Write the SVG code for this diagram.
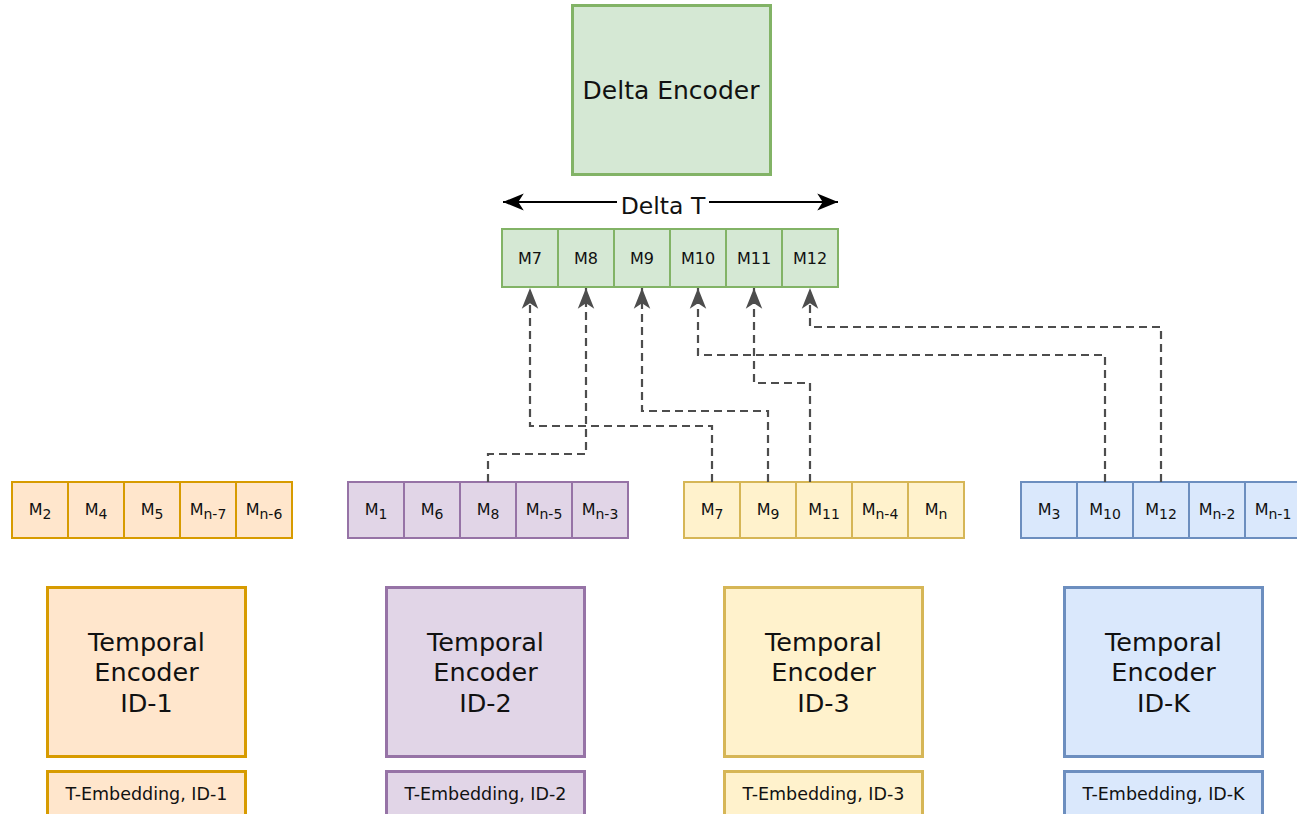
<svg xmlns="http://www.w3.org/2000/svg" width="1297" height="814" viewBox="0 0 1297 814">
  <defs>
    <marker id="arrGray" markerUnits="userSpaceOnUse" markerWidth="22" markerHeight="22" viewBox="0 0 16 16" refX="15" refY="8" orient="auto">
      <path d="M0,2 L15,8 L0,14 L4,8 z" fill="#4d4d4d"/>
    </marker>
    <marker id="arrBlack" markerUnits="userSpaceOnUse" markerWidth="22" markerHeight="22" viewBox="0 0 18 18" refX="17" refY="9" orient="auto-start-reverse">
      <path d="M0,2 L17,9 L0,16 L4.5,9 z" fill="#000"/>
    </marker>
    <style>
      text { font-family: "DejaVu Sans", Verdana, sans-serif; fill: #111; text-anchor: middle; }
      .big { font-size: 25.5px; }
      .title { font-size: 25px; }
      .emb { font-size: 17.5px; }
      .cell { font-size: 16px; }
      .gcell { font-size: 16px; }
      .sub { font-size: 14px; }
      .enc { stroke-width: 3; }
      .strip { stroke-width: 2; }
      .orange { fill: #ffe6cc; stroke: #d79b00; }
      .purple { fill: #e1d5e7; stroke: #9673a6; }
      .yellow { fill: #fff2cc; stroke: #d6b656; }
      .blue { fill: #dae8fc; stroke: #6c8ebf; }
      .green { fill: #d5e8d4; stroke: #82b366; }
      .link { fill: none; stroke: #4d4d4d; stroke-width: 2.2; stroke-dasharray: 8 5; marker-end: url(#arrGray); }
    </style>
  </defs>

  <!-- Delta encoder -->
  <g id="delta-encoder">
    <rect class="green enc" x="572.5" y="5.5" width="198" height="169"/>
    <text class="title" x="671" y="99">Delta Encoder</text>
  </g>

  <!-- Delta T span -->
  <g id="delta-t">
    <line x1="503" y1="202" x2="838" y2="202" stroke="#000" stroke-width="2" marker-start="url(#arrBlack)" marker-end="url(#arrBlack)"/>
    <rect x="617" y="189" width="92" height="28" fill="#fff"/>
    <text x="663" y="214" style="font-size:23.5px">Delta T</text>
  </g>

  <!-- Delta window of memories -->
  <g id="delta-window">
    <rect class="green strip" x="502" y="229" width="56" height="58"/>
    <rect class="green strip" x="558" y="229" width="56" height="58"/>
    <rect class="green strip" x="614" y="229" width="56" height="58"/>
    <rect class="green strip" x="670" y="229" width="56" height="58"/>
    <rect class="green strip" x="726" y="229" width="56" height="58"/>
    <rect class="green strip" x="782" y="229" width="56" height="58"/>
    <text class="gcell" x="530" y="264">M7</text>
    <text class="gcell" x="586" y="264">M8</text>
    <text class="gcell" x="642" y="264">M9</text>
    <text class="gcell" x="698" y="264">M10</text>
    <text class="gcell" x="754" y="264">M11</text>
    <text class="gcell" x="810" y="264">M12</text>
  </g>

  <!-- Memory strip, ID-1 -->
  <g id="memories-1">
    <rect class="orange strip" x="12" y="482" width="56" height="56"/>
    <rect class="orange strip" x="68" y="482" width="56" height="56"/>
    <rect class="orange strip" x="124" y="482" width="56" height="56"/>
    <rect class="orange strip" x="180" y="482" width="56" height="56"/>
    <rect class="orange strip" x="236" y="482" width="56" height="56"/>
    <text class="cell" x="40" y="515">M<tspan class="sub" dy="4">2</tspan></text>
    <text class="cell" x="96" y="515">M<tspan class="sub" dy="4">4</tspan></text>
    <text class="cell" x="152" y="515">M<tspan class="sub" dy="4">5</tspan></text>
    <text class="cell" x="208" y="515">M<tspan class="sub" dy="4">n-7</tspan></text>
    <text class="cell" x="264" y="515">M<tspan class="sub" dy="4">n-6</tspan></text>
  </g>

  <!-- Memory strip, ID-2 -->
  <g id="memories-2">
    <rect class="purple strip" x="348" y="482" width="56" height="56"/>
    <rect class="purple strip" x="404" y="482" width="56" height="56"/>
    <rect class="purple strip" x="460" y="482" width="56" height="56"/>
    <rect class="purple strip" x="516" y="482" width="56" height="56"/>
    <rect class="purple strip" x="572" y="482" width="56" height="56"/>
    <text class="cell" x="376" y="515">M<tspan class="sub" dy="4">1</tspan></text>
    <text class="cell" x="432" y="515">M<tspan class="sub" dy="4">6</tspan></text>
    <text class="cell" x="488" y="515">M<tspan class="sub" dy="4">8</tspan></text>
    <text class="cell" x="544" y="515">M<tspan class="sub" dy="4">n-5</tspan></text>
    <text class="cell" x="600" y="515">M<tspan class="sub" dy="4">n-3</tspan></text>
  </g>

  <!-- Memory strip, ID-3 -->
  <g id="memories-3">
    <rect class="yellow strip" x="684" y="482" width="56" height="56"/>
    <rect class="yellow strip" x="740" y="482" width="56" height="56"/>
    <rect class="yellow strip" x="796" y="482" width="56" height="56"/>
    <rect class="yellow strip" x="852" y="482" width="56" height="56"/>
    <rect class="yellow strip" x="908" y="482" width="56" height="56"/>
    <text class="cell" x="712" y="515">M<tspan class="sub" dy="4">7</tspan></text>
    <text class="cell" x="768" y="515">M<tspan class="sub" dy="4">9</tspan></text>
    <text class="cell" x="824" y="515">M<tspan class="sub" dy="4">11</tspan></text>
    <text class="cell" x="880" y="515">M<tspan class="sub" dy="4">n-4</tspan></text>
    <text class="cell" x="936" y="515">M<tspan class="sub" dy="4">n</tspan></text>
  </g>

  <!-- Memory strip, ID-K -->
  <g id="memories-k">
    <rect class="blue strip" x="1021" y="482" width="56" height="56"/>
    <rect class="blue strip" x="1077" y="482" width="56" height="56"/>
    <rect class="blue strip" x="1133" y="482" width="56" height="56"/>
    <rect class="blue strip" x="1189" y="482" width="56" height="56"/>
    <rect class="blue strip" x="1245" y="482" width="56" height="56"/>
    <text class="cell" x="1049" y="515">M<tspan class="sub" dy="4">3</tspan></text>
    <text class="cell" x="1105" y="515">M<tspan class="sub" dy="4">10</tspan></text>
    <text class="cell" x="1161" y="515">M<tspan class="sub" dy="4">12</tspan></text>
    <text class="cell" x="1217" y="515">M<tspan class="sub" dy="4">n-2</tspan></text>
    <text class="cell" x="1273" y="515">M<tspan class="sub" dy="4">n-1</tspan></text>
  </g>

  <!-- Temporal encoders -->
  <g id="encoder-1">
    <rect class="orange enc" x="47.5" y="587.5" width="198" height="169"/>
    <text class="big" x="146.5" y="651">Temporal</text>
    <text class="big" x="146.5" y="681">Encoder</text>
    <text class="big" x="146.5" y="712">ID-1</text>
  </g>
  <g id="encoder-2">
    <rect class="purple enc" x="386.5" y="587.5" width="198" height="169"/>
    <text class="big" x="485.5" y="651">Temporal</text>
    <text class="big" x="485.5" y="681">Encoder</text>
    <text class="big" x="485.5" y="712">ID-2</text>
  </g>
  <g id="encoder-3">
    <rect class="yellow enc" x="724.5" y="587.5" width="198" height="169"/>
    <text class="big" x="823.5" y="651">Temporal</text>
    <text class="big" x="823.5" y="681">Encoder</text>
    <text class="big" x="823.5" y="712">ID-3</text>
  </g>
  <g id="encoder-k">
    <rect class="blue enc" x="1064.5" y="587.5" width="198" height="169"/>
    <text class="big" x="1163.5" y="651">Temporal</text>
    <text class="big" x="1163.5" y="681">Encoder</text>
    <text class="big" x="1163.5" y="712">ID-K</text>
  </g>

  <!-- Temporal embeddings -->
  <g id="embedding-1">
    <rect class="orange enc" x="47.5" y="771.5" width="198" height="60"/>
    <text class="emb" x="146.5" y="800">T-Embedding, ID-1</text>
  </g>
  <g id="embedding-2">
    <rect class="purple enc" x="386.5" y="771.5" width="198" height="60"/>
    <text class="emb" x="485.5" y="800">T-Embedding, ID-2</text>
  </g>
  <g id="embedding-3">
    <rect class="yellow enc" x="724.5" y="771.5" width="198" height="60"/>
    <text class="emb" x="823.5" y="800">T-Embedding, ID-3</text>
  </g>
  <g id="embedding-k">
    <rect class="blue enc" x="1064.5" y="771.5" width="198" height="60"/>
    <text class="emb" x="1163.5" y="800">T-Embedding, ID-K</text>
  </g>

  <!-- Selected memories routed into the delta window -->
  <g id="connectors">
    <path class="link" d="M712,482 V426 H530 V288"/>
    <path class="link" d="M488,482 V454 H586 V288"/>
    <path class="link" d="M768,482 V411 H642 V288"/>
    <path class="link" d="M1105,482 V355 H698 V288"/>
    <path class="link" d="M810,482 V383 H754 V288"/>
    <path class="link" d="M1161,482 V327 H810 V288"/>
  </g>
</svg>
